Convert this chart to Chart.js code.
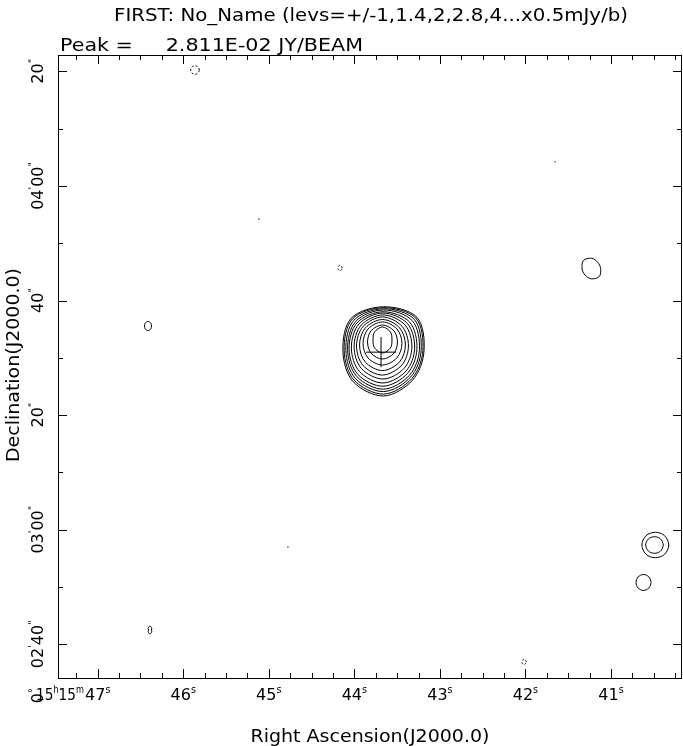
<!DOCTYPE html>
<html>
<head>
<meta charset="utf-8">
<script src="https://cdn.jsdelivr.net/npm/chart.js@4.4.1/dist/chart.umd.min.js"></script>
<style>
  html, body { margin: 0; padding: 0; background: #fff; overflow: hidden; }
  #c { display: block; }
</style>
</head>
<body>
<canvas id="c" width="683" height="746"></canvas>
<script>
// texts
const title = "FIRST: No_Name (levs=+/-1,1.4,2,2.8,4...x0.5mJy/b)";
const peakText = "Peak =     2.811E-02 JY/BEAM";
const xTitle = "Right Ascension(J2000.0)";
const yTitle = "Declination(J2000.0)";

// axes: x = RA seconds past 15h15m, y = Dec arcsec past 0d00m
const raMin = 40.170, raMax = 47.464;
const decMin = 154.12, decMax = 262.85;
const raMajor = [47, 46, 45, 44, 43, 42, 41];
const raLabels = ["47^s", "46^s", "45^s", "44^s", "43^s", "42^s", "41^s"];
const raPrefix = "15^h15^m";
const raMinorStep = 0.25;
const decMajor = [160, 180, 200, 220, 240, 260];
const decLabels = ["02'40\"", "03'00\"", "20\"", "40\"", "04'00\"", "20\""];
const decPrefix = "0°";
const decMinorStep = 10;

// contour levels (x0.5 mJy/beam)
const levels = [1, 1.4, 2, 2.8, 4, 5.6, 8, 11.3, 16, 22.6, 32, 45.3];

// main source: one entry per level, centre (RA s, Dec ")
const coreRA  = [43.659, 43.659, 43.659, 43.659, 43.665, 43.665, 43.665, 43.671, 43.671, 43.671, 43.671, 43.671];
const coreDec = [211.19, 211.27, 211.36, 211.45, 211.54, 211.71, 211.89, 212.06, 212.23, 212.50, 212.76, 213.11];
// radii in arcsec towards E(right), NE, N, NW, W, SW, S, SE of the page
const coreRadii = [
  [7.10, 8.30, 7.72, 8.05, 7.12, 7.55, 7.85, 7.20],
  [6.90, 8.00, 7.48, 7.75, 6.90, 7.30, 7.60, 6.98],
  [6.60, 7.60, 7.20, 7.35, 6.60, 7.00, 7.25, 6.70],
  [6.30, 7.12, 6.90, 6.92, 6.30, 6.65, 6.92, 6.40],
  [5.95, 6.62, 6.50, 6.45, 5.95, 6.25, 6.50, 6.05],
  [5.55, 6.05, 6.10, 5.95, 5.55, 5.82, 6.10, 5.70],
  [5.07, 5.45, 5.59, 5.40, 5.07, 5.33, 5.59, 5.25],
  [4.55, 4.85, 5.07, 4.81, 4.55, 4.81, 5.07, 4.75],
  [4.02, 4.24, 4.46, 4.24, 4.02, 4.24, 4.46, 4.20],
  [3.41, 3.58, 3.76, 3.58, 3.41, 3.58, 3.76, 3.55],
  [2.62, 2.80, 2.97, 2.80, 2.62, 2.80, 2.97, 2.80],
  [1.66, 1.97, 2.27, 1.97, 1.66, 1.97, 2.27, 1.97]
];

// faint sources: centre, radii (same 8 directions), dashed = negative contour
const faintRA   = [41.228, 40.482, 40.492, 40.620, 46.412, 46.389, 45.863, 44.168, 42.017];
const faintDec  = [225.58, 177.33, 177.33, 170.79, 215.55, 162.50, 260.23, 225.67, 156.91];
const faintRadii = [
  [1.60, 1.55, 1.80, 2.00, 1.65, 1.60, 1.80, 1.95],
  [2.36, 2.30, 2.22, 2.30, 2.36, 2.30, 2.22, 2.30],
  [1.54, 1.50, 1.45, 1.50, 1.54, 1.50, 1.45, 1.50],
  [1.31, 1.35, 1.40, 1.35, 1.31, 1.35, 1.40, 1.35],
  [0.60, 0.70, 0.80, 0.70, 0.60, 0.70, 0.80, 0.70],
  [0.25, 0.45, 0.70, 0.45, 0.25, 0.45, 0.70, 0.45],
  [0.75, 0.75, 0.75, 0.75, 0.75, 0.75, 0.75, 0.75],
  [0.35, 0.40, 0.50, 0.40, 0.35, 0.40, 0.50, 0.40],
  [0.40, 0.40, 0.50, 0.40, 0.40, 0.40, 0.50, 0.40]
];
const faintDashed = [false, false, false, false, false, false, true, true, true];

// single-pixel islands
const dotRA  = [41.655, 45.116, 44.776];
const dotDec = [244.20, 234.22, 177.00];

// catalogue position marker
const crossRA = 43.688, crossDec = 210.99;

const dirs = [0, 45, 90, 135, 180, 225, 270, 315];
function ringPoints(ra, dec, radii) {
  return radii.map((r, i) => {
    const a = dirs[i] * Math.PI / 180;
    return { x: ra - r * Math.cos(a) / 15, y: dec + r * Math.sin(a) };
  });
}

const datasets = [];
levels.forEach((lv, i) => {
  datasets.push({ data: ringPoints(coreRA[i], coreDec[i], coreRadii[i]), contour: true, dashed: false, pointRadius: 0 });
});
faintRA.forEach((ra, i) => {
  datasets.push({ data: ringPoints(ra, faintDec[i], faintRadii[i]), contour: true, dashed: faintDashed[i], pointRadius: 0 });
});
datasets.push({
  data: dotRA.map((r, i) => ({ x: r, y: dotDec[i] })),
  pointRadius: 0.7, pointBackgroundColor: "#000", pointBorderWidth: 0
});
datasets.push({
  data: [{ x: crossRA, y: crossDec }],
  pointStyle: "cross", pointRadius: 15, pointBorderColor: "#000", pointBorderWidth: 1
});

// closed smooth curve through the ring points
const contourPlugin = {
  id: "contours",
  afterDatasetsDraw(chart) {
    const ctx = chart.ctx;
    const area = chart.chartArea;
    ctx.save();
    ctx.beginPath();
    ctx.rect(area.left, area.top, area.right - area.left, area.bottom - area.top);
    ctx.clip();
    ctx.strokeStyle = "#000";
    ctx.lineWidth = 1;
    chart.data.datasets.forEach((ds, di) => {
      if (!ds.contour) return;
      const pts = chart.getDatasetMeta(di).data.map(e => ({ x: e.x, y: e.y }));
      const n = pts.length;
      ctx.setLineDash(ds.dashed ? [2, 2] : []);
      ctx.beginPath();
      ctx.moveTo(pts[0].x, pts[0].y);
      for (let i = 0; i < n; i++) {
        const p0 = pts[(i - 1 + n) % n], p1 = pts[i], p2 = pts[(i + 1) % n], p3 = pts[(i + 2) % n];
        ctx.bezierCurveTo(
          p1.x + (p2.x - p0.x) / 6, p1.y + (p2.y - p0.y) / 6,
          p2.x - (p3.x - p1.x) / 6, p2.y - (p3.y - p1.y) / 6,
          p2.x, p2.y);
      }
      ctx.closePath();
      ctx.stroke();
    });
    ctx.restore();
  }
};

// text with superscripts: ^x, ', ", ° are raised
function parse(str) {
  const segs = [];
  for (let i = 0; i < str.length; i++) {
    const ch = str[i];
    if (ch === "^") { segs.push({ t: str[i + 1], sup: true }); i++; }
    else if (ch === "'" || ch === "\"" || ch === "°") segs.push({ t: ch, sup: true });
    else segs.push({ t: ch, sup: false });
  }
  return segs;
}
const FONT = "\"DejaVu Sans\", sans-serif";
function segWidth(ctx, segs, size) {
  let w = 0;
  segs.forEach(s => {
    ctx.font = (s.sup ? size * 0.6 : size) + "px " + FONT;
    w += ctx.measureText(s.t).width;
  });
  return w;
}
function drawSegs(ctx, segs, x, y, size) {
  segs.forEach(s => {
    const sz = s.sup ? size * 0.6 : size;
    ctx.font = sz + "px " + FONT;
    ctx.fillText(s.t, x, s.sup ? y - size * 0.45 : y);
    x += ctx.measureText(s.t).width;
  });
}
// label whose main part is centred at (cx, base); prefix squeezed into prefW, gap before main
function tickLabel(ctx, main, prefix, cx, base, size, prefW, gap) {
  const m = parse(main);
  const wm = segWidth(ctx, m, size);
  drawSegs(ctx, m, cx - wm / 2, base, size);
  if (prefix) {
    const p = parse(prefix);
    const wp = segWidth(ctx, p, size);
    const k = prefW ? prefW / wp : 1;
    ctx.save();
    ctx.translate(cx - wm / 2 - gap - wp * k, base);
    ctx.scale(k, 1);
    drawSegs(ctx, p, 0, 0, size);
    ctx.restore();
  }
}
function fitText(ctx, str, x, base, size, width, align) {
  ctx.font = size + "px " + FONT;
  const w = ctx.measureText(str).width;
  const k = width / w;
  ctx.save();
  ctx.translate(align === "center" ? x - width / 2 : x, base);
  ctx.scale(k, 1);
  ctx.fillText(str, 0, 0);
  ctx.restore();
}

const framePlugin = {
  id: "frame",
  afterDraw(chart) {
    const ctx = chart.ctx;
    const a = chart.chartArea;
    const xs = chart.scales.x, ys = chart.scales.y;
    ctx.save();
    ctx.strokeStyle = "#000";
    ctx.fillStyle = "#000";
    ctx.lineWidth = 1;
    ctx.setLineDash([]);
    ctx.strokeRect(Math.round(a.left) + 0.5, Math.round(a.top) + 0.5,
      Math.round(a.right - a.left) - 1, Math.round(a.bottom - a.top));
    ctx.beginPath();
    // RA ticks (inward, top and bottom)
    for (let v = Math.ceil(raMin / raMinorStep) * raMinorStep; v <= raMax; v += raMinorStep) {
      const major = Math.abs(v - Math.round(v)) < 1e-6;
      const len = major ? 9 : 5;
      const px = Math.round(xs.getPixelForValue(v)) + 0.5;
      ctx.moveTo(px, a.bottom); ctx.lineTo(px, a.bottom - len);
      ctx.moveTo(px, a.top); ctx.lineTo(px, a.top + len);
    }
    // Dec ticks (inward, left and right)
    for (let v = Math.ceil(decMin / decMinorStep) * decMinorStep; v <= decMax; v += decMinorStep) {
      const major = v % 20 === 0;
      const len = major ? 9 : 5;
      const py = Math.round(ys.getPixelForValue(v)) + 0.5;
      ctx.moveTo(a.left, py); ctx.lineTo(a.left + len, py);
      ctx.moveTo(a.right, py); ctx.lineTo(a.right - len, py);
    }
    ctx.stroke();

    // RA labels
    raMajor.forEach((v, i) => {
      tickLabel(ctx, raLabels[i], i === 0 ? raPrefix : "", xs.getPixelForValue(v), 700, 16, 48, 1);
    });
    // Dec labels, rotated
    decMajor.forEach((v, i) => {
      ctx.save();
      ctx.translate(43, ys.getPixelForValue(v));
      ctx.rotate(-Math.PI / 2);
      tickLabel(ctx, decLabels[i], i === 0 ? decPrefix : "", 0, 0, 16, 0, 20);
      ctx.restore();
    });

    // titles
    fitText(ctx, title, 371, 21, 18, 514, "center");
    fitText(ctx, peakText, 60, 51, 18, 303, "left");
    fitText(ctx, xTitle, 370, 742, 18, 239, "center");
    ctx.save();
    ctx.translate(19, 365);
    ctx.rotate(-Math.PI / 2);
    fitText(ctx, yTitle, 0, 0, 18, 194, "center");
    ctx.restore();
    ctx.restore();
  }
};

new Chart(document.getElementById("c"), {
  type: "scatter",
  data: { datasets },
  options: {
    responsive: false,
    animation: false,
    events: [],
    layout: { autoPadding: false, padding: { left: 58, right: 1, top: 55, bottom: 68 } },
    plugins: { legend: { display: false }, tooltip: { enabled: false } },
    scales: {
      x: { type: "linear", reverse: true, min: raMin, max: raMax, display: false },
      y: { type: "linear", min: decMin, max: decMax, display: false }
    }
  },
  plugins: [contourPlugin, framePlugin]
});
</script>
</body>
</html>
